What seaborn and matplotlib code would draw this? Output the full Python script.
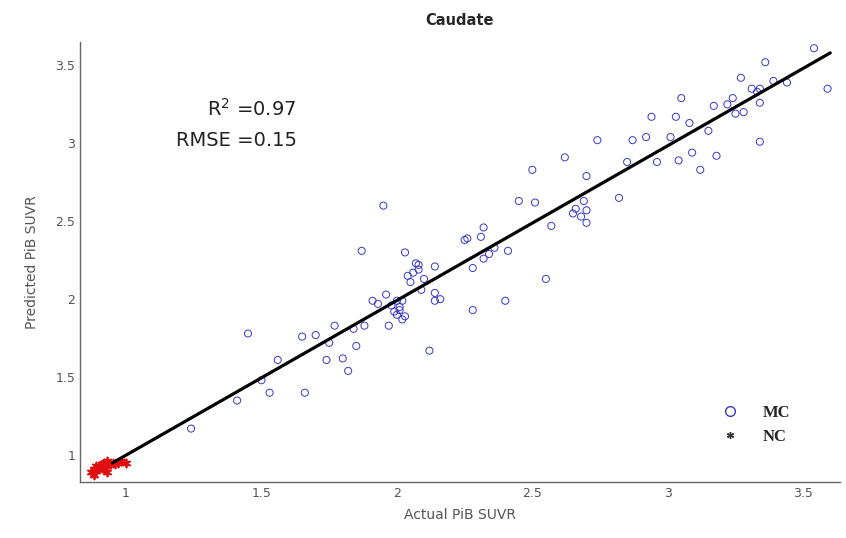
import numpy as np
import pandas as pd
import matplotlib
matplotlib.use("Agg")
import matplotlib.pyplot as plt
import seaborn as sns
from matplotlib.lines import Line2D

# ---- data ----
mc_actual = [1.24, 1.41, 1.45, 1.50, 1.53, 1.56, 1.66, 1.65, 1.70, 1.75, 1.74, 1.77, 1.80, 1.82,
             1.84, 1.85, 1.87, 1.88, 1.91, 1.93, 1.95, 1.96, 1.97, 2.00, 1.99, 2.00, 2.02, 2.01,
             2.02, 2.03, 2.04, 2.05, 2.07, 2.08, 2.08, 2.09, 2.12, 2.14, 2.14, 2.14, 2.16, 2.26,
             2.25, 2.28, 2.28, 2.31, 2.32, 2.32, 2.34, 2.36, 2.40, 2.41, 2.45, 2.50, 2.51, 2.55,
             2.57, 2.62, 2.65, 2.66, 2.68, 2.69, 2.70, 2.70, 2.70, 2.74, 2.82, 2.85, 2.87, 2.92,
             2.94, 2.96, 3.01, 3.03, 3.05, 3.04, 3.09, 3.08, 3.12, 3.15, 3.17, 3.18, 3.22, 3.24,
             3.25, 3.27, 3.28, 3.31, 3.33, 3.34, 3.34, 3.34, 3.36, 3.39, 3.44, 3.54, 3.59,
             2.06, 2.10, 2.01, 1.98, 2.03]
mc_pred = [1.17, 1.35, 1.78, 1.48, 1.40, 1.61, 1.40, 1.76, 1.77, 1.72, 1.61, 1.83, 1.62, 1.54,
           1.81, 1.70, 2.31, 1.83, 1.99, 1.97, 2.60, 2.03, 1.83, 1.99, 1.92, 1.90, 1.87, 1.95,
           1.99, 2.30, 2.15, 2.11, 2.23, 2.19, 2.22, 2.06, 1.67, 2.21, 2.04, 1.99, 2.00, 2.39,
           2.38, 2.20, 1.93, 2.40, 2.46, 2.26, 2.29, 2.33, 1.99, 2.31, 2.63, 2.83, 2.62, 2.13,
           2.47, 2.91, 2.55, 2.58, 2.53, 2.63, 2.57, 2.49, 2.79, 3.02, 2.65, 2.88, 3.02, 3.04,
           3.17, 2.88, 3.04, 3.17, 3.29, 2.89, 2.94, 3.13, 2.83, 3.08, 3.24, 2.92, 3.25, 3.29,
           3.19, 3.42, 3.20, 3.35, 3.33, 3.26, 3.35, 3.01, 3.52, 3.40, 3.39, 3.61, 3.35,
           2.17, 2.13, 1.93, 1.96, 1.89]
nc_actual = [0.87, 0.88, 0.89, 0.90, 0.90, 0.91, 0.92, 0.92, 0.93, 0.93, 0.94, 0.95, 0.96,
             0.97, 0.89, 0.91, 0.93, 0.98, 1.00, 0.88]
nc_pred = [0.89, 0.91, 0.90, 0.93, 0.92, 0.94, 0.91, 0.95, 0.93, 0.96, 0.94, 0.95, 0.94,
           0.95, 0.93, 0.92, 0.89, 0.96, 0.95, 0.87]
fit_x = [0.95, 3.60]
fit_y = [0.95, 3.58]
r2_text = "R$^2$ =0.97"
rmse_text = "RMSE =0.15"
x_ticks = [1, 1.5, 2, 2.5, 3, 3.5]
y_ticks = [1, 1.5, 2, 2.5, 3, 3.5]
tick_labels = ["1", "1.5", "2", "2.5", "3", "3.5"]

sns.set_style("white")
plt.rcParams['font.family'] = ['DejaVu Sans']

fig = plt.figure(figsize=(8.46, 5.38), dpi=100)
ax = fig.add_axes([0.0946, 0.104, 0.898, 0.818])

mc_df = pd.DataFrame({"actual": mc_actual, "pred": mc_pred})
nc_df = pd.DataFrame({"actual": nc_actual, "pred": nc_pred})

sns.scatterplot(data=mc_df, x="actual", y="pred", ax=ax, marker="o", s=26,
                facecolor="none", edgecolor="#3838c8", linewidth=0.7, legend=False)
sns.lineplot(x=fit_x, y=fit_y, ax=ax, color="black", linewidth=2.3, legend=False)
sns.scatterplot(data=nc_df, x="actual", y="pred", ax=ax, marker=(6, 2, 0), s=32,
                color="#e01010", linewidth=1.3, legend=False)

ax.set_xlim(0.83, 3.635)
ax.set_ylim(0.827, 3.65)
ax.set_xticks(x_ticks)
ax.set_xticklabels(tick_labels)
ax.set_yticks(y_ticks)
ax.set_yticklabels(tick_labels)
ax.tick_params(axis="both", direction="in", length=3, width=0.8, colors="#555555",
               labelsize=9, labelcolor="#555555")
for s in ["top", "right"]:
    ax.spines[s].set_visible(False)
for s in ["left", "bottom"]:
    ax.spines[s].set_color("#666666")
    ax.spines[s].set_linewidth(1.0)

ax.set_xlabel("Actual PiB SUVR", fontsize=10, color="#555555", labelpad=6)
ax.set_ylabel("Predicted PiB SUVR", fontsize=10, color="#555555", labelpad=12)
ax.set_title("Caudate", fontsize=10.5, fontweight="heavy", pad=12)

ax.text(1.63, 3.22, r2_text, fontsize=14, ha="right", va="center", color="#222222")
ax.text(1.63, 3.02, rmse_text, fontsize=14, ha="right", va="center", color="#222222")

handles = [
    Line2D([], [], marker="o", linestyle="none", markerfacecolor="none",
           markeredgecolor="#3838c8", markersize=7, markeredgewidth=1.0),
    Line2D([], [], marker=(6, 2, 0), linestyle="none", color="#333333",
           markersize=5, markeredgewidth=1.0),
]
ax.legend(handles, ["MC", "NC"], loc="lower right", bbox_to_anchor=(0.955, 0.05),
          frameon=False, handletextpad=1.0, labelspacing=0.5,
          prop={"family": "Liberation Serif", "weight": "bold", "size": 12})

fig.savefig("out.png", dpi=100)
